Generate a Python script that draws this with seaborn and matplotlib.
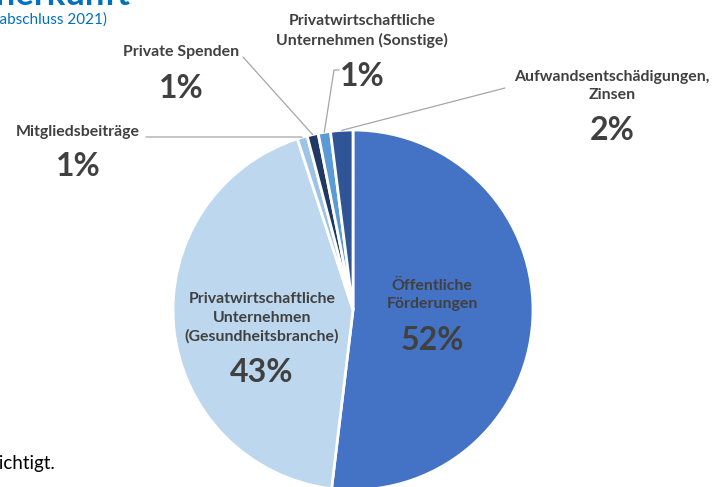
import matplotlib
matplotlib.use("Agg")
import matplotlib.pyplot as plt
from matplotlib.lines import Line2D
import seaborn as sns
import numpy as np

# ---- data ----
categories = ["Öffentliche\nFörderungen",
              "Privatwirtschaftliche\nUnternehmen\n(Gesundheitsbranche)",
              "Mitgliedsbeiträge",
              "Private Spenden",
              "Privatwirtschaftliche\nUnternehmen (Sonstige)",
              "Aufwandsentschädigungen,\nZinsen"]
values = [51.9, 43.1, 0.9, 1.0, 1.1, 2.0]
pct_labels = ["52%", "43%", "1%", "1%", "1%", "2%"]
colors = ["#4472C4", "#BDD7EE", "#9DC3E6", "#203864", "#5B9BD5", "#2F5597"]

sns.set_theme(style="white")
plt.rcParams['font.family'] = ['Lato', 'DejaVu Sans']

W, H = 722, 487
fig = plt.figure(figsize=(W / 100, H / 100), dpi=100)
fig.patch.set_facecolor("white")

cx, cy, r = 353, 310, 180
ax = fig.add_axes([(cx - r) / W, (H - cy - r) / H, 2 * r / W, 2 * r / H])
wedges, _ = ax.pie(values, colors=colors, startangle=90, counterclock=False,
                   wedgeprops=dict(edgecolor="white", linewidth=2))
ax.set_xlim(-1, 1)
ax.set_ylim(-1, 1)
ax.set_aspect("auto")
ax.axis("off")

def fx(x):
    return x / W

def fy(y):
    return 1 - y / H

txtc = "#404040"
name_fs = 11.4
pct_fs = 23

# label positions in pixels: (x, name_center_y, pct_center_y)
label_pos = [(432, 295, 340),
             (262, 318, 372),
             (78, 132, 166),
             (181, 52, 88),
             (362, 31, 76),
             (612, 86, 130)]

for (x, yn, yp), name, pct in zip(label_pos, categories, pct_labels):
    fig.text(fx(x), fy(yn), name, ha="center", va="center", fontsize=name_fs,
             fontweight="bold", color=txtc, linespacing=1.38)
    fig.text(fx(x), fy(yp), pct, ha="center", va="center", fontsize=pct_fs,
             fontweight="bold", color=txtc)

# leader lines: start points (pixels) near label, end at wedge edge
leader_start = {2: [(146, 137), (300, 137)],
                3: [(243, 57)],
                4: [(339, 70), (334, 70)],
                5: [(505, 88)]}
for i, pts in leader_start.items():
    w = wedges[i]
    ang = np.deg2rad((w.theta1 + w.theta2) / 2)
    end = ax.transData.transform((np.cos(ang) * 1.0, np.sin(ang) * 1.0))
    ex, ey = end[0], end[1]
    xs = [p[0] for p in pts] + [ex]
    ys = [H - p[1] for p in pts] + [ey]
    fig.add_artist(Line2D(np.array(xs) / W, np.array(ys) / H, color="#A6A6A6",
                          linewidth=0.9, transform=fig.transFigure))

# cropped surrounding text (the reference is a cut-out of a larger page)
fig.text(fx(130), fy(5), "Mittelherkunft", ha="right", va="baseline",
         fontsize=25, fontweight="bold", color="#0070C0")
fig.text(fx(107), fy(20), "(Gesamtabschluss 2021)", ha="right", va="center",
         fontsize=11, color="#0070C0")
fig.text(fx(55), fy(463), "Rundungsdifferenzen wurden nicht berücksichtigt.",
         ha="right", va="center", fontsize=13.5, color="#000000")

fig.savefig("out.png", dpi=100, facecolor="white")
